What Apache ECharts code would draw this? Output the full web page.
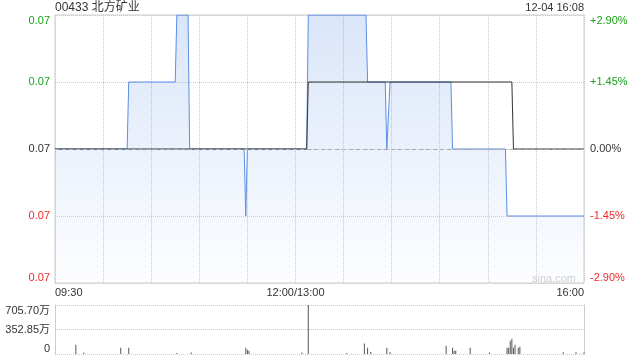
<!DOCTYPE html>
<html>
<head>
<meta charset="utf-8">
<script src="https://cdn.jsdelivr.net/npm/echarts@6/dist/echarts.min.js"></script>
<style>html,body{margin:0;padding:0;background:#fff}#c{width:640px;height:360px}</style>
</head>
<body>
<div id="c"></div>
<script>
const titleText = '00433 北方矿业';
const timeText = '12-04 16:08';
const prevClose = 0.069;
const tickMinutes = [0, 150, 330];
const tickLabels = ['09:30', '12:00/13:00', '16:00'];
const priceMinutes = [0, 45, 46, 75, 76, 83, 84, 118, 119, 120, 157, 158, 194, 195, 206, 207, 208, 209, 247, 248, 281, 282, 330];
const priceValues = [0.069, 0.069, 0.070, 0.070, 0.071, 0.071, 0.069, 0.069, 0.068, 0.069, 0.069, 0.071, 0.071, 0.070, 0.070, 0.069, 0.069, 0.070, 0.070, 0.069, 0.069, 0.068, 0.068];
const avgMinutes = [0, 157, 158, 285, 286, 330];
const avgValues = [0.069, 0.069, 0.070, 0.070, 0.069, 0.069];
const volMinutes = [13, 18, 41, 46, 76, 85, 119, 120, 121, 154, 158, 182, 193, 195, 197, 207, 209, 244, 248, 249, 250, 259, 271, 282, 283, 284, 285, 286, 287, 289, 290, 317, 325, 330];
const volValues = [134, 20, 91, 91, 15, 20, 91, 62, 48, 20, 705.7, 15, 153, 91, 28, 91, 28, 120, 91, 48, 48, 91, 20, 91, 91, 192, 221, 91, 134, 91, 105, 25, 25, 20];

const FONT = '"Liberation Sans", Arial, "Noto Sans CJK SC", sans-serif';
const GREEN = '#1aa31a', RED = '#ee2a2a', DARK = '#333';

const priceData = priceMinutes.map((m, i) => [m, priceValues[i]]);
const avgData = avgMinutes.map((m, i) => [m, avgValues[i]]);
const volData = volMinutes.map((m, i) => [m, volValues[i]]);
const volMax = Math.max(...volValues);

function pct(v) { return Math.round((v - prevClose) / prevClose * 10000) / 100; }
function colorFor(v) { const p = pct(v); return p > 0 ? GREEN : (p < 0 ? RED : DARK); }

const chart = echarts.init(document.getElementById('c'), null, {renderer: 'canvas'});
chart.setOption({
  animation: false,
  textStyle: {fontFamily: FONT},
  graphic: [
    {type: 'text', left: 55, top: 2, style: {text: titleText, font: '12px ' + FONT, fill: DARK}},
    {type: 'text', right: 56, top: 2, style: {text: timeText, font: '11px ' + FONT, fill: DARK}},
    {type: 'text', left: 532, top: 273, style: {text: 'sina.com', font: '11px ' + FONT, fill: '#d0d0d0'}}
  ],
  grid: [
    {left: 55, right: 56, top: 15, height: 268, show: true, borderColor: '#ccc', borderWidth: 1},
    {left: 55, right: 56, top: 305, height: 49}
  ],
  xAxis: [
    {gridIndex: 0, type: 'value', min: 0, max: 330, interval: 30,
      axisLine: {show: false}, axisTick: {show: false},
      splitLine: {show: true, lineStyle: {color: '#ccc', type: 'dotted'}},
      axisLabel: {margin: 4, fontSize: 11, color: DARK, fontFamily: FONT, showMinLabel: true, showMaxLabel: true,
        alignMinLabel: 'left', alignMaxLabel: 'right',
        formatter: v => { const i = tickMinutes.indexOf(Math.round(v)); return i >= 0 ? tickLabels[i] : ''; }}},
    {gridIndex: 1, type: 'value', min: 0, max: 330, interval: 30,
      axisLine: {show: false}, axisTick: {show: false}, axisLabel: {show: false}, splitLine: {show: false}}
  ],
  yAxis: [
    {gridIndex: 0, type: 'value', min: 0.067, max: 0.071, interval: 0.001,
      axisLine: {show: false}, axisTick: {show: false},
      splitLine: {show: true, lineStyle: {color: '#ccc', type: 'dotted'}},
      axisLabel: {margin: 5, fontSize: 11, fontFamily: FONT, color: v => colorFor(v),
        verticalAlignMinLabel: 'bottom', verticalAlignMaxLabel: 'top',
        formatter: v => v.toFixed(2)}},
    {gridIndex: 0, type: 'value', position: 'right', min: 0.067, max: 0.071, interval: 0.001,
      axisLine: {show: false}, axisTick: {show: false}, splitLine: {show: false},
      axisLabel: {margin: 6, fontSize: 11, fontFamily: FONT, color: v => colorFor(v),
        verticalAlignMinLabel: 'bottom', verticalAlignMaxLabel: 'top',
        formatter: v => { const p = pct(v); return (p > 0 ? '+' : '') + (p === 0 ? '0.00' : p.toFixed(2)) + '%'; }}},
    {gridIndex: 1, type: 'value', min: 0, max: volMax, interval: volMax / 2,
      axisLine: {show: true, lineStyle: {color: '#ccc'}}, axisTick: {show: false},
      splitLine: {show: true, lineStyle: {color: '#ccc', type: 'dotted'}},
      axisLabel: {margin: 5, fontSize: 11, fontFamily: FONT, color: DARK,
        verticalAlignMinLabel: 'bottom', verticalAlignMaxLabel: 'top',
        formatter: v => v === 0 ? '0' : v.toFixed(2) + '万'}},
    {gridIndex: 1, type: 'value', position: 'right', min: 0, max: volMax, interval: volMax / 2,
      axisLine: {show: true, lineStyle: {color: '#ccc'}}, axisTick: {show: false},
      splitLine: {show: false}, axisLabel: {show: false}}
  ],
  series: [
    {type: 'line', xAxisIndex: 0, yAxisIndex: 0, data: priceData, symbol: 'none', z: 3,
      lineStyle: {color: '#5b8ee6', width: 1},
      areaStyle: {origin: 'start', color: new echarts.graphic.LinearGradient(0, 0, 0, 1, [
        {offset: 0, color: 'rgba(91,142,230,0.32)'}, {offset: 1, color: 'rgba(91,142,230,0.02)'}])},
      markLine: {silent: true, symbol: 'none', precision: 4, label: {show: false},
        lineStyle: {color: '#aaa', type: [4, 3], width: 1}, data: [{yAxis: prevClose}]}},
    {type: 'line', xAxisIndex: 0, yAxisIndex: 0, data: avgData, symbol: 'none', z: 4,
      lineStyle: {color: '#333', width: 1}},
    {type: 'bar', xAxisIndex: 1, yAxisIndex: 2, data: volData, barWidth: 1,
      itemStyle: {color: '#555'}}
  ]
});
</script>
</body>
</html>
